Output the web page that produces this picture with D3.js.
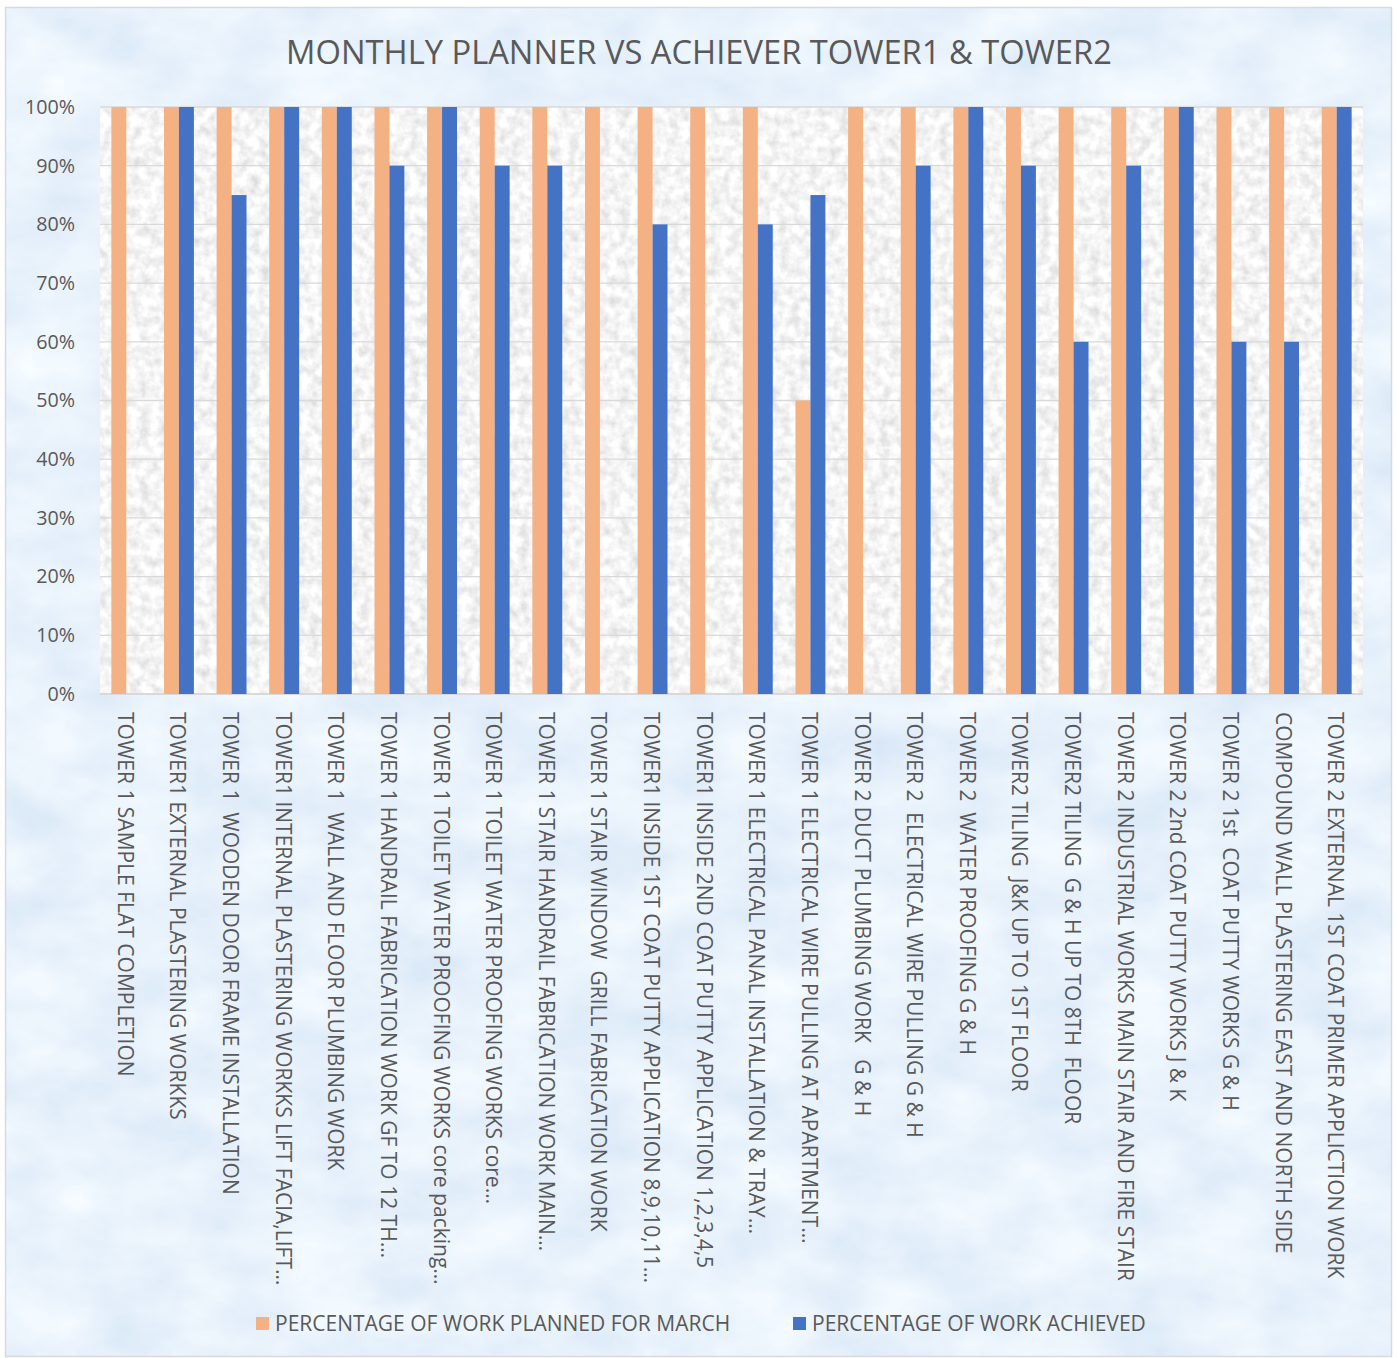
<!DOCTYPE html>
<html>
<head>
<meta charset="utf-8">
<script src="https://d3js.org/d3.v7.min.js"></script>
<style>
    body { margin: 0; background: #ffffff; }
    text { font-family: "Open Sans", sans-serif; fill: #595959; white-space: pre; }
</style>
</head>
<body>
<svg id="chart" width="1397" height="1358"></svg>
<script>
var categories = [
    "TOWER 1 SAMPLE FLAT COMPLETION",
    "TOWER1 EXTERNAL PLASTERING WORKKS",
    "TOWER 1  WOODEN DOOR FRAME INSTALLATION",
    "TOWER1 INTERNAL PLASTERING WORKKS LIFT FACIA,LIFT\u2026",
    "TOWER 1  WALL AND FLOOR PLUMBING WORK",
    "TOWER 1 HANDRAIL FABRICATION WORK GF TO 12 TH\u2026",
    "TOWER 1 TOILET WATER PROOFING WORKS core packing\u2026",
    "TOWER 1 TOILET WATER PROOFING WORKS core\u2026",
    "TOWER 1 STAIR HANDRAIL FABRICATION WORK MAIN\u2026",
    "TOWER 1 STAIR WINDOW  GRILL FABRICATION WORK",
    "TOWER1 INSIDE 1ST COAT PUTTY APPLICATION 8,9,10,11\u2026",
    "TOWER1 INSIDE 2ND COAT PUTTY APPLICATION 1,2,3,4,5",
    "TOWER 1 ELECTRICAL PANAL INSTALLATION & TRAY\u2026",
    "TOWER 1 ELECTRICAL WIRE PULLING AT APARTMENT\u2026",
    "TOWER 2 DUCT PLUMBING WORK   G & H",
    "TOWER 2  ELECTRICAL WIRE PULLING G & H",
    "TOWER 2  WATER PROOFING G & H",
    "TOWER2 TILING  J&K UP TO 1ST FLOOR",
    "TOWER2 TILING  G & H UP TO 8TH  FLOOR",
    "TOWER 2 INDUSTRIAL WORKS MAIN STAIR AND FIRE STAIR",
    "TOWER 2 2nd COAT PUTTY WORKS J & K",
    "TOWER 2 1st  COAT PUTTY WORKS G & H",
    "COMPOUND WALL PLASTERING EAST AND NORTH SIDE",
    "TOWER 2 EXTERNAL 1ST COAT PRIMER APPLICTION WORK"
];

var planned = [1, 1, 1, 1, 1, 1, 1, 1, 1, 1, 1, 1, 1, 0.5, 1, 1, 1, 1, 1, 1, 1, 1, 1, 1];
var achieved = [0, 1, 0.85, 1, 1, 0.9, 1, 0.9, 0.9, 0, 0.8, 0, 0.8, 0.85, 0, 0.9, 1, 0.9, 0.6, 0.9, 1, 0.6, 0.6, 1];

var series_names = ["PERCENTAGE OF WORK PLANNED FOR MARCH", "PERCENTAGE OF WORK ACHIEVED"];
var series_colors = ["#F4B183", "#4472C4"];
var y_ticks = [0, 0.1, 0.2, 0.3, 0.4, 0.5, 0.6, 0.7, 0.8, 0.9, 1];

var chart_title = "MONTHLY PLANNER VS ACHIEVER TOWER1 & TOWER2";

function add_texture(defs, id, freq, octaves, matrix, x, y, w, h) {
    var f = defs.append("filter")
        .attr("id", id)
        .attr("filterUnits", "userSpaceOnUse")
        .attr("x", x).attr("y", y)
        .attr("width", w).attr("height", h);
    f.append("feTurbulence")
        .attr("type", "fractalNoise")
        .attr("baseFrequency", freq)
        .attr("numOctaves", octaves)
        .attr("seed", 3)
        .attr("result", "noise");
    f.append("feColorMatrix")
        .attr("in", "noise")
        .attr("type", "matrix")
        .attr("values", matrix)
        .attr("result", "col");
    f.append("feComposite")
        .attr("in", "col")
        .attr("in2", "SourceGraphic")
        .attr("operator", "in");
}

function draw_chart() {
    var svg = d3.select("#chart");
    var defs = svg.append("defs");

    var margin = { top: 107, right: 34, bottom: 664, left: 100 },
        width = 1397 - margin.left - margin.right,
        height = 1358 - margin.top - margin.bottom;

    // chart background (light blue marble)
    add_texture(defs, "blue_tex", "0.011 0.018", 4,
        "0.30 0 0 0 0.66  0.22 0 0 0 0.78  0.10 0 0 0 0.92  0 0 0 0 1",
        6, 8, 1385, 1348);
    svg.append("rect")
        .attr("x", 6).attr("y", 8)
        .attr("width", 1385).attr("height", 1348)
        .attr("fill", "#dbe8f6")
        .attr("filter", "url(#blue_tex)");
    svg.append("rect")
        .attr("x", 5.5).attr("y", 7.5)
        .attr("width", 1386).attr("height", 1349)
        .attr("fill", "none")
        .attr("stroke", "#d9d9d9")
        .attr("stroke-width", 1.5);

    // plot area (grey speckle) - filter coords are local to g
    add_texture(defs, "grey_tex", "0.1", 3,
        "0.5 0 0 0 0.66  0.5 0 0 0 0.66  0.5 0 0 0 0.66  0 0 0 0 1",
        0, 0, width, height);

    var g = svg.append("g")
        .attr("transform", "translate(" + margin.left + "," + margin.top + ")");

    g.append("rect")
        .attr("width", width).attr("height", height)
        .attr("fill", "#ebebeb")
        .attr("filter", "url(#grey_tex)");

    var x0 = d3.scaleBand()
        .domain(categories)
        .range([0, width])
        .padding(0);

    var x1 = d3.scaleBand()
        .domain([0, 1])
        .range([0, x0.bandwidth()])
        .paddingInner(0)
        .paddingOuter(0.76);

    var y = d3.scaleLinear()
        .domain([0, 1])
        .range([height, 0]);

    // gridlines
    g.append("g")
        .selectAll("line")
        .data(y_ticks)
        .enter().append("line")
        .attr("x1", 0).attr("x2", width)
        .attr("y1", function (d) { return y(d); })
        .attr("y2", function (d) { return y(d); })
        .attr("stroke", "#d9d9d9")
        .attr("stroke-width", function (d) { return d == 0 ? 2 : 1.3; });

    // bars
    var rows = categories.map(function (c, i) {
        return { cat: c, vals: [planned[i], achieved[i]] };
    });
    var groups = g.selectAll(".grp")
        .data(rows)
        .enter().append("g")
        .attr("class", "grp")
        .attr("transform", function (d) { return "translate(" + x0(d.cat) + ",0)"; });
    groups.selectAll("rect")
        .data(function (d) { return d.vals.map(function (v, k) { return { k: k, v: v }; }); })
        .enter().append("rect")
        .attr("x", function (d) { return x1(d.k); })
        .attr("width", x1.bandwidth())
        .attr("y", function (d) { return y(d.v); })
        .attr("height", function (d) { return height - y(d.v); })
        .attr("fill", function (d) { return series_colors[d.k]; });

    // y axis
    var y_axis = g.append("g")
        .call(d3.axisLeft(y).tickValues(y_ticks).tickFormat(d3.format(".0%")).tickSize(0).tickPadding(25));
    y_axis.select(".domain").remove();
    y_axis.selectAll("text")
        .style("font-size", "19.7px")
        .attr("fill", "#595959");

    // x labels rotated
    var x_axis = g.append("g")
        .attr("transform", "translate(0," + height + ")")
        .call(d3.axisBottom(x0).tickSize(0).tickPadding(0));
    x_axis.select(".domain").remove();
    x_axis.selectAll("text")
        .style("font-size", "21px")
        .attr("fill", "#595959")
        .attr("text-anchor", "start")
        .attr("transform", "translate(-1,18) rotate(90)")
        .attr("x", 0).attr("y", 0)
        .attr("dy", "0.36em");

    // title
    svg.append("text")
        .attr("x", 699).attr("y", 64)
        .attr("text-anchor", "middle")
        .style("font-size", "32.7px")
        .text(chart_title);

    // legend
    var legend_x = [256, 793];
    var legend = svg.selectAll(".legend")
        .data(series_names)
        .enter().append("g")
        .attr("class", "legend")
        .attr("transform", function (d, i) { return "translate(" + legend_x[i] + ",1317)"; });
    legend.append("rect")
        .attr("width", 13).attr("height", 13)
        .attr("fill", function (d, i) { return series_colors[i]; });
    legend.append("text")
        .attr("x", 19).attr("y", 14)
        .style("font-size", "21px")
        .text(function (d) { return d; });
}

draw_chart();
</script>
</body>
</html>
